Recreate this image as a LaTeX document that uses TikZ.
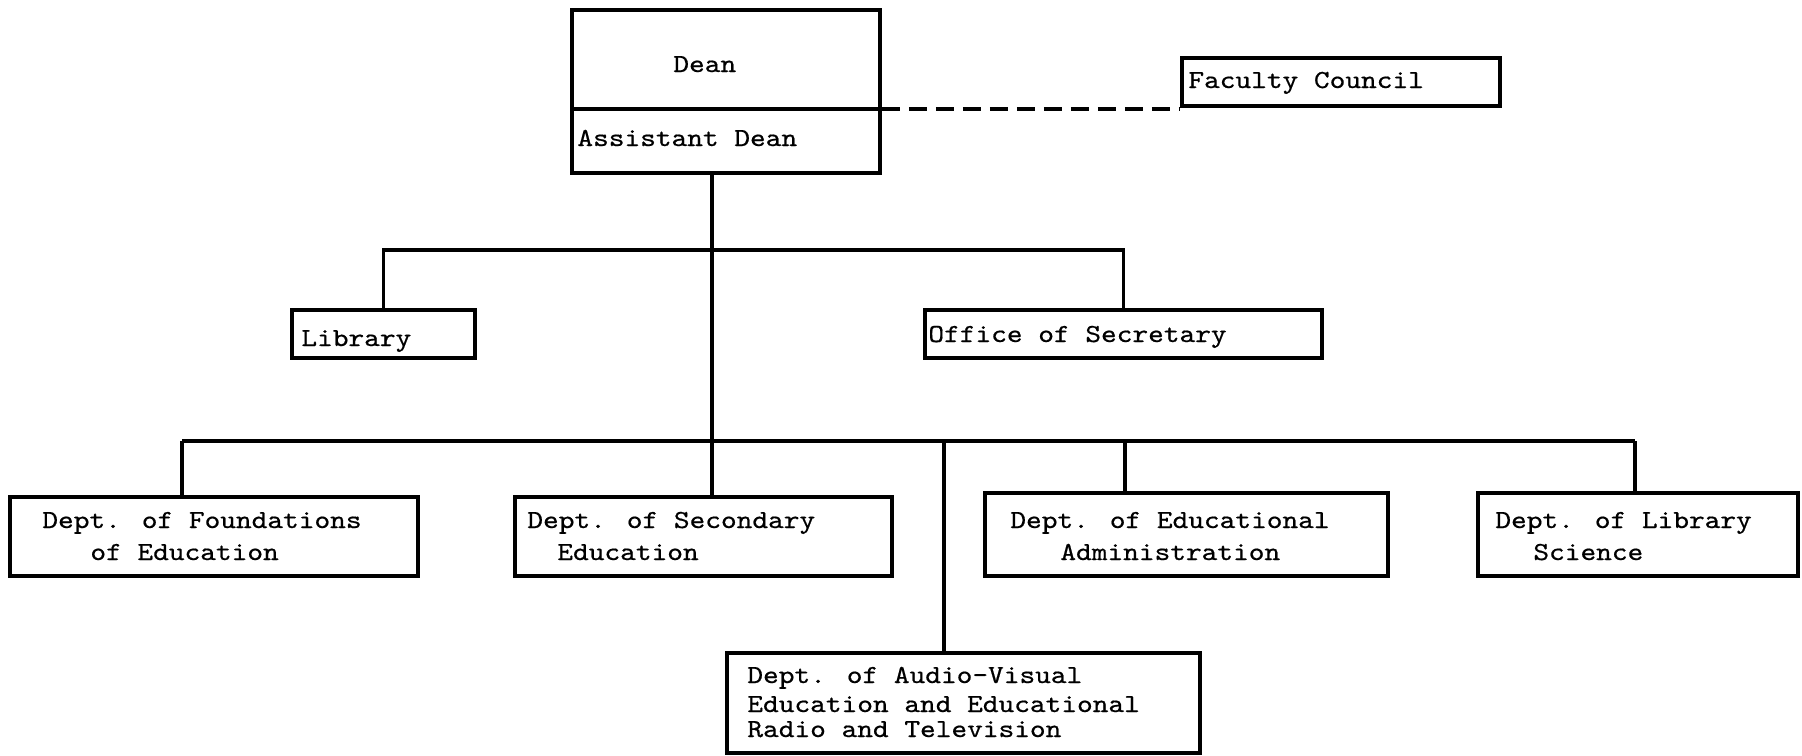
\documentclass[tikz,border=0pt]{standalone}
\usepackage{fontspec}
% typewriter face, widened to a pica pitch
\newfontfamily\typewriter[FakeStretch=1.15, FakeBold=0.6]{lmmono10-regular.otf}
\usetikzlibrary{fit}
% one unit = one pixel of the 1802 x 755 sheet, y grows downwards
\newcommand\orgbox[5]{\node[orgbox, fit={(#2,#3) (#4,#5)}] (#1) {};}
\begin{document}
\begin{tikzpicture}[x=0.5pt,y=-0.5pt,
  orgbox/.style={draw, line width=1.8pt, inner sep=0pt},
  link/.style={line width=1.7pt},
  txt/.style={anchor=base west, inner sep=0pt, font=\typewriter\fontsize{13}{15}\selectfont}]
\useasboundingbox (0,0) rectangle (1802,755);
\clip (0,0) rectangle (1802,755);

% boxes
\orgbox{dean}{572}{10}{880}{173}
\orgbox{fc}{1182}{58}{1500}{106}
\orgbox{lib}{292}{310}{475}{358}
\orgbox{sec}{925}{310}{1322}{358}
\orgbox{found}{10}{497}{418}{576}
\orgbox{second}{515}{497}{892}{576}
\orgbox{edadm}{985}{493}{1388}{576}
\orgbox{libsci}{1478}{493}{1798}{576}
\orgbox{av}{727}{653}{1200}{753}

% texts
\node[txt] (tdean) at (673,72) {Dean};
\node[txt] (tasst) at (577,146) {Assistant Dean};
\node[txt] (tfc) at (1188,88) {Faculty Council};
\node[txt] (tlib) at (301,346) {Library};
\node[txt] (tsec) at (928,342) {Office of Secretary};
\node[txt] (tf1) at (42,528) {Dept. of Foundations};
\node[txt] (tf2) at (90,560) {of Education};
\node[txt] (ts1) at (527,528) {Dept. of Secondary};
\node[txt] (ts2) at (557,560) {Education};
\node[txt] (te1) at (1010,528) {Dept. of Educational};
\node[txt] (te2) at (1060,560) {Administration};
\node[txt] (tl1) at (1495,528) {Dept. of Library};
\node[txt] (tl2) at (1533,560) {Science};
\node[txt] (ta1) at (747,683) {Dept. of Audio-Visual};
\node[txt] (ta2) at (747,712) {Education and Educational};
\node[txt] (ta3) at (747,737) {Radio and Television};

% Dean / Assistant Dean divider and the advisory link
\coordinate (dv) at (0,109);
\draw[link] (dean.west |- dv) -- (dean.east |- dv);
\draw[link, dash pattern=on 9pt off 4.5pt] (dean.east |- dv) -- (fc.west |- dv);

% main spine
\coordinate (spine) at (712,0);
\draw[link] (dean.south -| spine) -- (second.north -| spine);

% staff bus
\coordinate (ub) at (0,250);
\draw[link] (lib.north) -- (lib.north |- ub) -- (sec.north |- ub) -- (sec.north);

% department bus
\coordinate (bf) at (182,441);
\coordinate (bav) at (944,441);
\coordinate (bea) at (1125,441);
\coordinate (bls) at (1635,441);
\draw[link] (bf) -- (bls);
\draw[link] (bf) -- (bf |- found.north);
\draw[link] (bav) -- (bav |- av.north);
\draw[link] (bea) -- (bea |- edadm.north);
\draw[link] (bls) -- (bls |- libsci.north);
\end{tikzpicture}
\end{document}
